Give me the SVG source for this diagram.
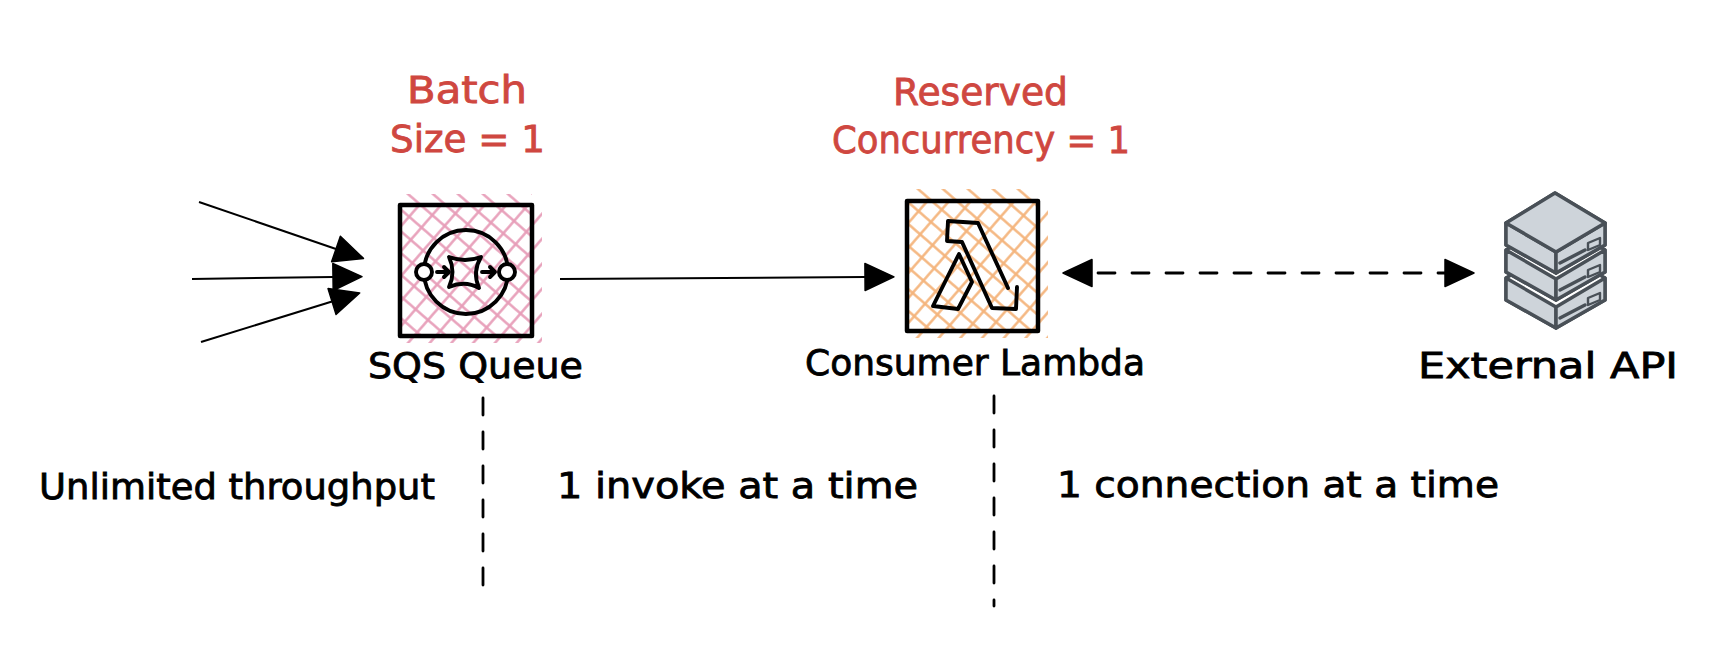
<svg xmlns="http://www.w3.org/2000/svg" width="1710" height="656" viewBox="0 0 1710 656">
<style>
text{font-family:"DejaVu Sans","Liberation Sans",sans-serif;font-size:35px;fill:#000;stroke:#000;stroke-width:.8}
text.r{fill:#cf4740;stroke:#cf4740;font-size:37px}
.box{fill:none;stroke:#000;stroke-width:4.5;stroke-linejoin:round}
.ic{fill:none;stroke:#000;stroke-width:3.9;stroke-linejoin:round;stroke-linecap:round}
.c{fill:none;stroke:#000;stroke-width:2}
.d{fill:none;stroke:#000;stroke-width:2.8;stroke-linecap:round;stroke-dasharray:17 17}
.sf{fill:#ced4da;stroke:#495057;stroke-width:3.5;stroke-linejoin:round;stroke-linecap:round}
.sb{fill:#fff;stroke:#495057;stroke-width:3.5;stroke-linejoin:round}
</style>
<defs>
<marker id="ah" markerUnits="userSpaceOnUse" markerWidth="34" markerHeight="32" refX="0" refY="16" orient="auto-start-reverse" viewBox="-2 0 34 32"><path d="M0,2.5 L29,16 L0,29.5 Z" fill="#000" stroke="#000" stroke-width="1.5" stroke-linejoin="round"/></marker>
<pattern id="p1" patternUnits="userSpaceOnUse" width="40" height="16.4" patternTransform="translate(408 194) rotate(41) translate(0 -8.2)"><path d="M0,8.2H40" stroke="#e79db8" stroke-width="2.2"/></pattern>
<pattern id="p2" patternUnits="userSpaceOnUse" width="40" height="16.4" patternTransform="translate(408 343) rotate(-49) translate(0 -8.2)"><path d="M0,8.2H40" stroke="#e79db8" stroke-width="2.2"/></pattern>
<pattern id="o1" patternUnits="userSpaceOnUse" width="40" height="16.4" patternTransform="translate(918 189) rotate(41) translate(0 -8.2)"><path d="M0,8.2H40" stroke="#f4b47c" stroke-width="2.2"/></pattern>
<pattern id="o2" patternUnits="userSpaceOnUse" width="40" height="16.4" patternTransform="translate(917 338) rotate(-49) translate(0 -8.2)"><path d="M0,8.2H40" stroke="#f4b47c" stroke-width="2.2"/></pattern>
<g id="srv">
<path class="sb" d="M1506,223 L1555,193 L1605,223 L1605,245 L1556,273 L1506,245 Z"/>
<path class="sf" d="M1506,223 L1556,252 L1556,273 L1506,245 Z"/>
<path class="sf" d="M1556,252 L1605,223 L1605,245 L1556,273 Z"/>
<path class="sf" d="M1560,263 L1585,250"/>
<path class="sf" style="stroke-width:2.4" d="M1588,243 L1600,238 L1600,245 L1588,250 Z"/>
</g>
</defs>

<g id="connectors">
<path class="c" marker-end="url(#ah)" d="M199,202 L336,249"/>
<path class="c" marker-end="url(#ah)" d="M192,279 L333,277"/>
<path class="c" marker-end="url(#ah)" d="M201,342 L332,301.5"/>
<path class="c" marker-end="url(#ah)" d="M560,279 L865,277"/>
<path class="d" stroke-dashoffset="28" marker-start="url(#ah)" marker-end="url(#ah)" d="M1092,273 L1445,273"/>
<path class="d" d="M483,398 L483,586"/>
<path class="d" d="M994,396 L994,606"/>
</g>

<g id="sqs-queue">
<rect x="400" y="194" width="132" height="142" fill="url(#p1)"/>
<rect x="400" y="205" width="142" height="138" fill="url(#p2)"/>
<rect class="box" x="400" y="205" width="132" height="131"/>
<circle class="ic" cx="466" cy="272" r="42"/>
<circle class="ic" cx="424" cy="272" r="8" style="fill:#fff"/>
<circle class="ic" cx="507" cy="272" r="8" style="fill:#fff"/>
<path class="ic" d="M437,272 H449 M444,267 L449,272 L444,277"/>
<path class="ic" d="M482,272 H495 M490,267 L495,272 L490,277"/>
<path class="ic" d="M449,257 Q465,263 481,257 Q472,272 479,288 Q465,280 449,287 Q456,272 449,257 Z"/>
<text x="368" y="378" textLength="215" lengthAdjust="spacingAndGlyphs">SQS Queue</text>
</g>

<g id="consumer-lambda">
<rect x="907" y="189" width="131" height="142" fill="url(#o1)"/>
<rect x="907" y="201" width="141" height="137" fill="url(#o2)"/>
<rect class="box" x="907" y="201" width="131" height="130"/>
<path class="ic" d="M1008,288 L978,223 L948,221 L947,241 L962,242 L992,308 L1016,309 L1017,287"/>
<path class="ic" d="M959,254 L972,282 L958,309 L933,306 Z"/>
<text x="805" y="375" textLength="340" lengthAdjust="spacingAndGlyphs">Consumer Lambda</text>
</g>

<g id="external-api">
<use href="#srv" y="55"/>
<use href="#srv" y="27"/>
<use href="#srv"/>
<path class="sf" d="M1506,223 L1555,193 L1605,223 L1556,252 Z"/>
<text x="1418" y="378" textLength="260" lengthAdjust="spacingAndGlyphs">External API</text>
</g>

<g id="batch-size-note">
<text class="r" x="407" y="103" textLength="120" lengthAdjust="spacingAndGlyphs">Batch</text>
<text class="r" x="390" y="152" textLength="155" lengthAdjust="spacingAndGlyphs">Size = 1</text>
</g>
<g id="reserved-concurrency-note">
<text class="r" x="893" y="105" textLength="175" lengthAdjust="spacingAndGlyphs">Reserved</text>
<text class="r" x="832" y="153" textLength="298" lengthAdjust="spacingAndGlyphs">Concurrency = 1</text>
</g>

<g id="zone-labels">
<text x="39" y="499" textLength="396" lengthAdjust="spacingAndGlyphs">Unlimited throughput</text>
<text x="557" y="498" textLength="361" lengthAdjust="spacingAndGlyphs">1 invoke at a time</text>
<text x="1057" y="497" textLength="442" lengthAdjust="spacingAndGlyphs">1 connection at a time</text>
</g>
</svg>
